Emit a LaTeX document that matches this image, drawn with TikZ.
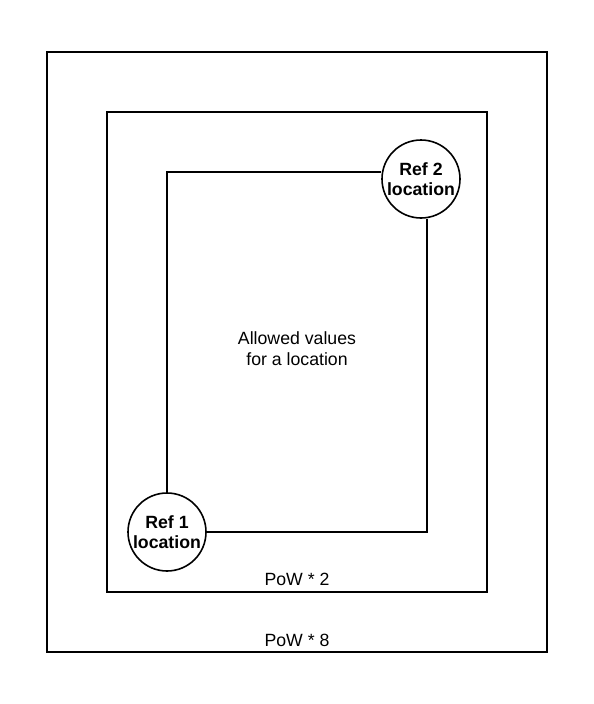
\documentclass[tikz,border=0pt]{standalone}
\usepackage{fontspec}
\setmainfont{Liberation Sans}
\usetikzlibrary{positioning,calc}
\tikzset{
  frame/.style={draw,line width=1.6pt,inner sep=0pt},
  refc/.style={draw,circle,fill=white,line width=1.6pt,minimum size=78pt,inner sep=0pt,align=center,font=\fontsize{17.7}{20.5}\selectfont\bfseries},
  lab/.style={font=\fontsize{17.7}{21}\selectfont,align=center},
  wire/.style={draw,line width=1.6pt},
}
\begin{document}
\begin{tikzpicture}[x=1pt,y=-1pt]
\useasboundingbox (0,0) rectangle (594,704);
\node[frame,minimum width=500pt,minimum height=600pt] (outer) at (297,352) {};
\node[frame,minimum width=380pt,minimum height=480pt] (pow2) at (297,352) {};
\coordinate (tl) at (167,172);
\coordinate (br) at (427,532);
\node[refc] (ref1) at (167,532) {Ref 1\\location};
\node[refc] (ref2) at (421,179) {Ref 2\\location};
% the allowed area between both refs
\draw[wire] (ref1) -- (tl) -- (tl -| ref2.west);
\draw[wire] (br |- ref2.south) -- (br) -- (ref1);
\node[lab] (allowed) at (297,349) {Allowed values\\for a location};
\node[lab] (lab2) at (297,579) {PoW * 2};
\node[lab] (lab8) at (297,640) {PoW * 8};
\end{tikzpicture}
\end{document}
